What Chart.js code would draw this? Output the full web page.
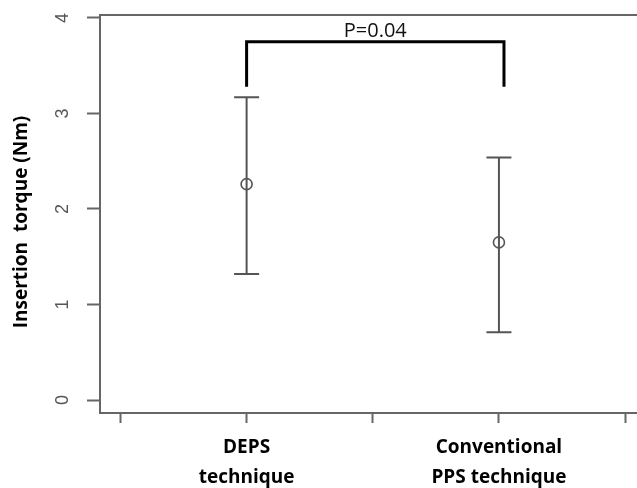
<!DOCTYPE html>
<html>
<head>
<meta charset="utf-8">
<script src="https://cdn.jsdelivr.net/npm/chart.js@4.4.1/dist/chart.umd.min.js"></script>
<style>
  html, body { margin: 0; padding: 0; background: #fff; overflow: hidden; }
  #wrap { width: 637px; height: 488px; position: relative; }
</style>
</head>
<body>
<div id="wrap"><canvas id="grafico"></canvas></div>
<script>
/* ================= DADOS ================= */

const categorias = [["DEPS", "technique"], ["Conventional", "PPS technique"]];
const posicoes = [1, 2];
const medias = [2.26, 1.65];
const limiteSuperior = [3.17, 2.54];
const limiteInferior = [1.32, 0.71];

const ticksX = [0.5, 1, 1.5, 2, 2.5];
const ticksY = [0, 1, 2, 3, 4];

const colchete = [
  { x: 1, y: 3.28 },
  { x: 1, y: 3.75 },
  { x: 2.02, y: 3.75 },
  { x: 2.02, y: 3.28 }
];
const textoP = "P=0.04";
const tituloY = "Insertion  torque (Nm)";

const CINZA = "#666666";

/* ================= PLUGINS ================= */

const caixa = {
  id: "caixa",
  beforeDatasetsDraw(chart) {
    const { ctx, chartArea: a } = chart;
    ctx.save();
    ctx.strokeStyle = CINZA;
    ctx.lineWidth = 2;
    ctx.strokeRect(a.left, a.top, a.right - a.left + 30, a.bottom - a.top);

    // titulo do eixo y, um pouco abaixo do centro como no original
    ctx.translate(22, (a.top + a.bottom) / 2 + 8);
    ctx.rotate(-Math.PI / 2);
    ctx.fillStyle = "#000";
    ctx.font = "bold 19px 'Open Sans'";
    ctx.textAlign = "center";
    ctx.textBaseline = "middle";
    ctx.fillText(tituloY, 0, 0);
    ctx.restore();
  }
};

const barrasErro = {
  id: "barrasErro",
  afterDatasetsDraw(chart) {
    const { ctx, scales: { x, y } } = chart;
    ctx.save();
    ctx.strokeStyle = "#555555";
    ctx.lineWidth = 2;
    posicoes.forEach((p, i) => {
      const px = x.getPixelForValue(p);
      const yS = y.getPixelForValue(limiteSuperior[i]);
      const yI = y.getPixelForValue(limiteInferior[i]);
      ctx.beginPath();
      ctx.moveTo(px, yS);
      ctx.lineTo(px, yI);
      ctx.moveTo(px - 12.5, yS);
      ctx.lineTo(px + 12.5, yS);
      ctx.moveTo(px - 12.5, yI);
      ctx.lineTo(px + 12.5, yI);
      ctx.stroke();
    });

    // texto do p-valor acima do colchete
    const meioX = x.getPixelForValue((colchete[0].x + colchete[3].x) / 2);
    const topoY = y.getPixelForValue(colchete[1].y);
    ctx.fillStyle = "#111";
    ctx.font = "20px 'Open Sans'";
    ctx.textAlign = "center";
    ctx.textBaseline = "alphabetic";
    ctx.fillText(textoP, meioX, topoY - 5);
    ctx.restore();
  }
};

/* ================= GRÁFICO ================= */

new Chart(document.getElementById("grafico"), {
  type: "scatter",
  data: {
    datasets: [
      {
        data: posicoes.map((p, i) => ({ x: p, y: medias[i] })),
        pointStyle: "circle",
        pointRadius: 5.5,
        pointBorderWidth: 1.6,
        pointBorderColor: "#555555",
        pointBackgroundColor: "rgba(0,0,0,0)"
      },
      {
        data: colchete,
        showLine: true,
        borderColor: "#000",
        borderWidth: 3,
        pointRadius: 0,
        tension: 0
      }
    ]
  },
  options: {
    responsive: true,
    maintainAspectRatio: false,
    animation: false,
    events: [],
    layout: { padding: { top: 15, right: 0, bottom: 0, left: 0 } },
    plugins: {
      legend: { display: false },
      tooltip: { enabled: false }
    },
    scales: {
      x: {
        type: "linear",
        min: 0.419,
        max: 2.519,
        afterBuildTicks: s => { s.ticks = ticksX.map(v => ({ value: v })); },
        afterFit: s => {
          s.height = 75;
          s.paddingLeft = 0;
          s.paddingRight = 0;
        },
        border: { display: false },
        grid: {
          drawOnChartArea: false,
          drawTicks: true,
          tickLength: 10,
          tickColor: CINZA,
          tickWidth: 2
        },
        ticks: {
          autoSkip: false,
          maxRotation: 0,
          padding: 10,
          color: "#000",
          font: { family: "'Open Sans'", size: 19, weight: "bold", lineHeight: 1.55 },
          callback: v => {
            const i = posicoes.indexOf(v);
            return i >= 0 ? categorias[i] : "";
          }
        }
      },
      y: {
        min: -0.136,
        max: 4.031,
        afterBuildTicks: s => { s.ticks = ticksY.map(v => ({ value: v })); },
        afterFit: s => {
          s.width = 100;
          s.paddingTop = 0;
          s.paddingBottom = 0;
        },
        border: { display: false },
        grid: {
          drawOnChartArea: false,
          drawTicks: true,
          tickLength: 13,
          tickColor: CINZA,
          tickWidth: 2
        },
        ticks: {
          minRotation: 90,
          maxRotation: 90,
          crossAlign: "center",
          padding: 19,
          color: "#555",
          font: { family: "'Liberation Sans'", size: 18 }
        }
      }
    }
  },
  plugins: [caixa, barrasErro]
});
</script>
</body>
</html>
